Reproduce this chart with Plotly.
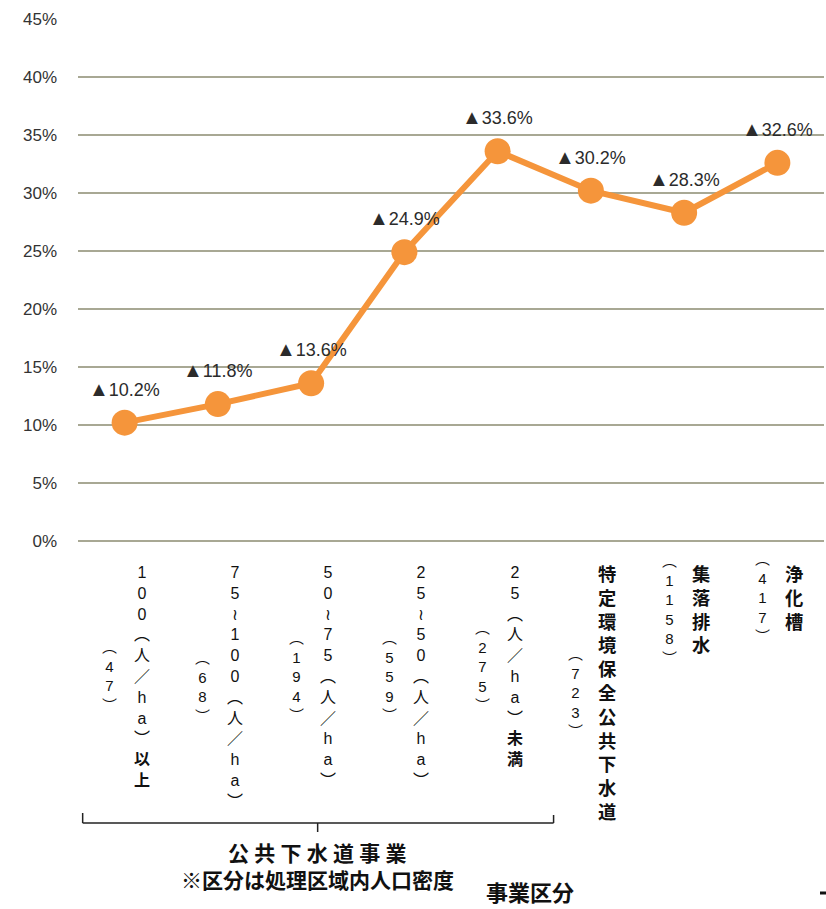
import plotly.graph_objects as go

# 事業区分ごとの値
categories = [
    "100(人/ha)以上",
    "75〜100(人/ha)",
    "50〜75(人/ha)",
    "25〜50(人/ha)",
    "25(人/ha)未満",
    "特定環境保全公共下水道",
    "集落排水",
    "浄化槽",
]
counts = [47, 68, 194, 559, 275, 723, 1158, 417]
values = [10.2, 11.8, 13.6, 24.9, 33.6, 30.2, 28.3, 32.6]
y_ticks = [0, 5, 10, 15, 20, 25, 30, 35, 40, 45]

group_title = "公共下水道事業"
group_note = "※区分は処理区域内人口密度"
axis_title = "事業区分"

ORANGE = "#F5953B"
GRID = "#A8A894"
TEXT = "#2b2b2b"
INK = "#111111"
LATIN = "Liberation Sans, Arial, sans-serif"
CJK = "Liberation Sans, Noto Sans CJK JP, sans-serif"

# 縦書き用の字形
VERT = {"(": "︵", ")": "︶", "〜": "≀", "/": "／"}


def vertical_text(text):
    """1文字ずつ改行した縦書きテキストを作る(括弧の外の漢字は太字)"""
    lines = []
    depth = 0
    for ch in text:
        if ch == "(":
            depth += 1
        v = VERT.get(ch, ch)
        if depth == 0 and ord(v) >= 0x4E00:
            lines.append(f"<b>{v}</b>")
        else:
            lines.append(v)
        if ch == ")":
            depth -= 1
    return "<br>".join(lines), len(lines)


fig = go.Figure()
fig.add_trace(
    go.Scatter(
        x=list(range(len(categories))),
        y=values,
        mode="lines+markers",
        line=dict(color=ORANGE, width=6),
        marker=dict(color=ORANGE, size=26),
        hoverinfo="skip",
        showlegend=False,
    )
)

annotations = []
# 値ラベル
for i, v in enumerate(values):
    annotations.append(
        dict(
            x=i, y=v, xref="x", yref="y",
            text=f"<span style='font-size:20px'>▲</span>{v:.1f}%",
            showarrow=False,
            yshift=34,
            font=dict(family=LATIN, size=18, color=TEXT),
        )
    )

# 縦書きの区分ラベル(名称と件数)
TOP_SHIFT = -21
for i, (name, n) in enumerate(zip(categories, counts)):
    kanji_only = all(ord(c) >= 0x4E00 for c in name)
    size_main = 18.3 if kanji_only else 16
    main_text, n_main = vertical_text(name)
    annotations.append(
        dict(
            x=i, y=0, xref="x", yref="paper",
            text=main_text,
            showarrow=False,
            xanchor="center", yanchor="top",
            xshift=17, yshift=TOP_SHIFT,
            font=dict(family=CJK, size=size_main, color=INK),
        )
    )
    count_text, _ = vertical_text(f"({n})")
    annotations.append(
        dict(
            x=i, y=0, xref="x", yref="paper",
            text=count_text,
            showarrow=False,
            xanchor="center", yanchor="middle",
            xshift=-15, yshift=TOP_SHIFT - n_main * size_main * 1.3 / 2,
            font=dict(family=CJK, size=15, color=INK),
        )
    )

# 公共下水道事業の括り
annotations += [
    dict(x=2.07, y=0, xref="x", yref="paper", text="\u2005".join(group_title),
         showarrow=False, yanchor="middle", yshift=-312,
         font=dict(family=CJK, size=21, color=INK, weight=600)),
    dict(x=2.07, y=0, xref="x", yref="paper", text=f"<b>{group_note}</b>",
         showarrow=False, yanchor="middle", yshift=-339,
         font=dict(family=CJK, size=21, color=INK)),
    dict(x=4.35, y=0, xref="x", yref="paper", text=f"<b>{axis_title}</b>",
         showarrow=False, yanchor="middle", yshift=-352,
         font=dict(family=CJK, size=22, color=INK)),
]

bracket = dict(type="line", xref="x", yref="paper", ysizemode="pixel", yanchor=0,
               line=dict(color="#222222", width=1.5))
shapes = [
    dict(bracket, x0=-0.45, x1=4.6, y0=-282, y1=-282),
    dict(bracket, x0=-0.45, x1=-0.45, y0=-282, y1=-272),
    dict(bracket, x0=4.6, x1=4.6, y0=-282, y1=-274),
    dict(bracket, x0=2.07, x1=2.07, y0=-282, y1=-291),
    dict(type="line", xref="paper", yref="paper", ysizemode="pixel", yanchor=0,
         x0=0.9946, x1=1.003, y0=-352, y1=-352, line=dict(color=INK, width=3)),
]

fig.update_layout(
    width=826,
    height=909,
    margin=dict(l=78, r=2, t=19, b=368),
    paper_bgcolor="white",
    plot_bgcolor="white",
    annotations=annotations,
    shapes=shapes,
    xaxis=dict(
        range=[-0.5, len(categories) - 0.5],
        showgrid=False, zeroline=False, showline=False,
        showticklabels=False, fixedrange=True,
    ),
    yaxis=dict(
        range=[0, 45],
        tickvals=y_ticks,
        ticktext=[f"{t}%" for t in y_ticks],
        showgrid=True, gridcolor=GRID, gridwidth=1.5,
        zeroline=True, zerolinecolor=GRID, zerolinewidth=1.5,
        showline=False,
        ticks="", ticklabelstandoff=20,
        tickfont=dict(family=LATIN, size=17, color="#333333"),
        fixedrange=True,
    ),
)

fig.write_html("out.html")
